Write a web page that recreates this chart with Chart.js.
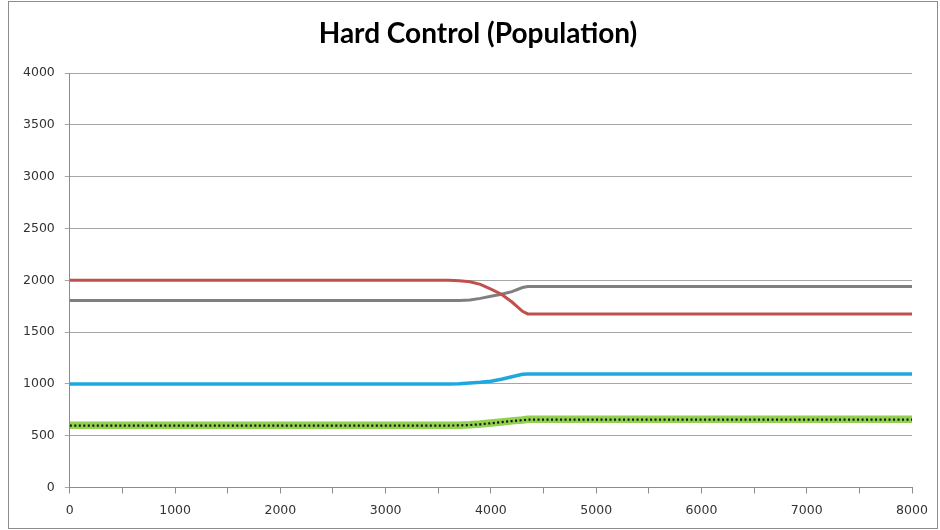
<!DOCTYPE html>
<html>
<head>
<meta charset="utf-8">
<script src="https://cdn.jsdelivr.net/npm/chart.js@4/dist/chart.umd.min.js"></script>
<style>
  html, body { margin: 0; padding: 0; background: #fff; }
  #wrap { position: relative; width: 940px; height: 530px; }
  #frame { position: absolute; left: 8px; top: 1px; width: 930px; height: 528px; border: 1px solid #8c8c8c; box-sizing: border-box; pointer-events: none; }
</style>
</head>
<body>
<div id="wrap">
  <canvas id="popChart" width="940" height="530"></canvas>
  <div id="frame"></div>
</div>
<script>
// time steps (x) and population per group
const steps = [0, 1000, 2000, 3000, 3600, 3700, 3800, 3900, 4000, 4100, 4200, 4300, 4350, 5000, 6000, 7000, 8000];
const redPop   = [2000, 2000, 2000, 2000, 2000, 1995, 1985, 1960, 1915, 1865, 1790, 1700, 1675, 1675, 1675, 1675, 1675];
const grayPop  = [1805, 1805, 1805, 1805, 1805, 1805, 1810, 1825, 1845, 1865, 1890, 1930, 1940, 1940, 1940, 1940, 1940];
const bluePop  = [1000, 1000, 1000, 1000, 1000, 1002, 1008, 1015, 1025, 1045, 1068, 1092, 1095, 1095, 1095, 1095, 1095];
const greenPop = [600, 600, 600, 600, 600, 601, 605, 612, 622, 633, 643, 652, 658, 658, 658, 658, 658];
const blackPop = [598, 598, 598, 598, 598, 599, 603, 610, 620, 631, 641, 650, 655, 655, 655, 655, 655];

const chartTitle = 'Hard Control (Population)';

function pts(vals) {
    return steps.map((s, i) => ({ x: s, y: vals[i] }));
}

// title sits a bit right of the canvas centre in the original, so draw it by hand
const titlePlugin = {
    id: 'offsetTitle',
    afterDraw(chart) {
        const c = chart.ctx;
        c.save();
        c.font = 'bold 28px Lato';
        c.fillStyle = '#000';
        c.textAlign = 'center';
        c.textBaseline = 'alphabetic';
        c.fillText(chartTitle, 478, 43);
        c.restore();
    }
};

// first dataset is drawn on top
const ctx = document.getElementById('popChart').getContext('2d');
const popChart = new Chart(ctx, {
    type: 'line',
    data: {
        datasets: [
            { data: pts(redPop), borderColor: '#c0504d', borderWidth: 3 },
            { data: pts(grayPop), borderColor: '#7f7f7f', borderWidth: 3 },
            { data: pts(bluePop), borderColor: '#1fa8e0', borderWidth: 3.5 },
            { data: pts(blackPop), borderColor: '#111', borderWidth: 2.2, borderDash: [2, 2.5] },
            { data: pts(greenPop), borderColor: '#92d050', borderWidth: 7.5 }
        ]
    },
    plugins: [titlePlugin],
    options: {
        responsive: false,
        animation: false,
        elements: { point: { radius: 0 }, line: { tension: 0 } },
        layout: { padding: { left: 13, right: 28, top: 73, bottom: 2.5 } },
        plugins: {
            legend: { display: false },
            tooltip: { enabled: false },
            title: { display: false }
        },
        scales: {
            x: {
                type: 'linear',
                min: 0,
                max: 8000,
                border: { color: '#8c8c8c' },
                grid: { drawOnChartArea: false, color: '#8c8c8c', tickLength: 6 },
                ticks: {
                    stepSize: 500,
                    autoSkip: false,
                    maxRotation: 0,
                    padding: 9.5,
                    color: '#333',
                    font: { family: 'DejaVu Sans', size: 12.5 },
                    callback: v => (v % 1000 === 0 ? String(v) : '')
                }
            },
            y: {
                min: 0,
                max: 4000,
                border: { color: '#8c8c8c' },
                grid: { color: '#a6a6a6', tickLength: 5 },
                ticks: {
                    stepSize: 500,
                    padding: 10,
                    color: '#333',
                    font: { family: 'DejaVu Sans', size: 12.5 },
                    callback: v => String(v)
                }
            }
        }
    }
});
</script>
</body>
</html>
